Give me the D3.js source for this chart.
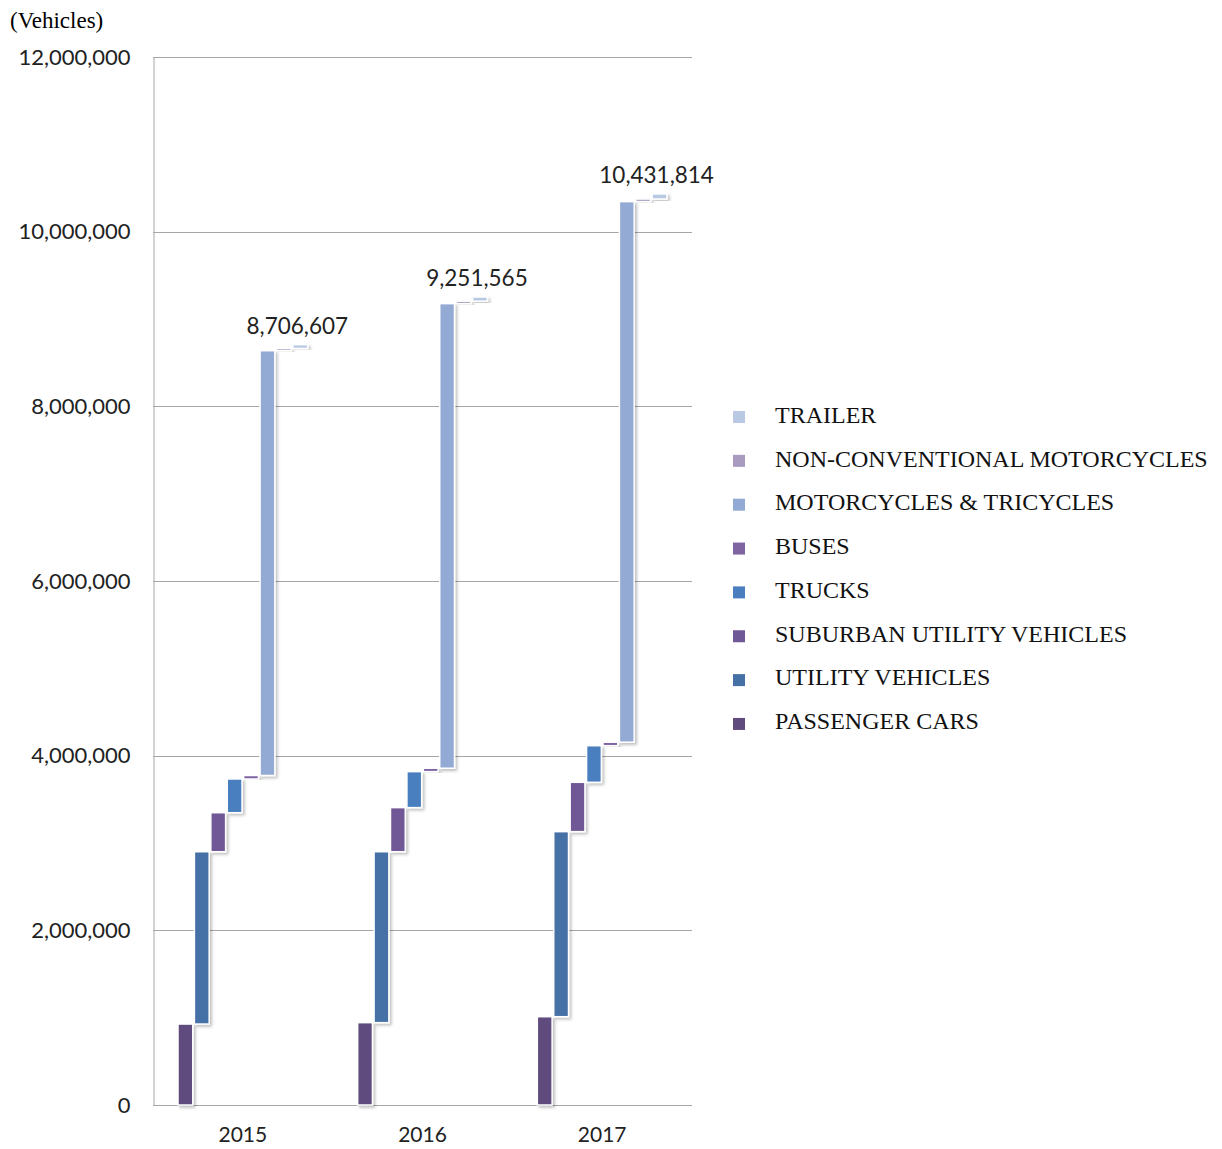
<!DOCTYPE html>
<html lang="en">
<head>
<meta charset="utf-8">
<title>Registered vehicles</title>
<script src="https://cdn.jsdelivr.net/npm/d3@7"></script>
<style>
    body { margin: 0; background: #fff; }
    .tick text { font-family: Lato, "Open Sans", sans-serif; font-size: 22px; fill: #222; }
    .xaxis .tick text { font-size: 21px; }
    .legend text { font-family: "Liberation Serif", "Times New Roman", serif; font-size: 24px; fill: #111; }
</style>
</head>
<body>
<div id="chart"></div>
<script>
// data
var years = ["2015", "2016", "2017"];
var seriesNames = ["PASSENGER CARS", "UTILITY VEHICLES", "SUBURBAN UTILITY VEHICLES", "TRUCKS",
    "BUSES", "MOTORCYCLES & TRICYCLES", "NON-CONVENTIONAL MOTORCYCLES", "TRAILER"];
var seriesColors = ["#5f4b7e", "#4571a6", "#6f5896", "#4a7ebf", "#8064a2", "#93aad4", "#a99bbf", "#b9c9e3"];
var passengerCars = [927000, 943000, 1011000];
var utilityVehicles = [1973000, 1957000, 2119000];
var suburbanUtility = [447000, 505000, 565000];
var trucks = [386000, 412000, 419000];
var buses = [40000, 39000, 40000];
var motorcycles = [4864000, 5320000, 6190000];
var nonConventional = [25000, 28000, 30000];
var trailers = [44607, 47565, 57814];
var yTicks = [0, 2000000, 4000000, 6000000, 8000000, 10000000, 12000000];

var seriesValues = [passengerCars, utilityVehicles, suburbanUtility, trucks, buses, motorcycles, nonConventional, trailers];

var svg_width = 1222, svg_height = 1149;
var plotLeft = 153, plotRight = 692, plotTop = 57, plotBottom = 1105;

var svg = d3.select("#chart").append("svg")
    .attr("width", svg_width)
    .attr("height", svg_height);

var defs = svg.append("defs");
var shadow = defs.append("filter").attr("id", "shadow")
    .attr("x", "-50%").attr("y", "-10%").attr("width", "200%").attr("height", "130%");
shadow.append("feDropShadow")
    .attr("dx", 2).attr("dy", 2).attr("stdDeviation", 1.5)
    .attr("flood-color", "#000").attr("flood-opacity", 0.25);

var x0 = d3.scaleBand().domain(years).range([plotLeft, plotRight])
    .paddingInner(0.26).paddingOuter(0.13);
var x1 = d3.scaleBand().domain(seriesNames).range([0, x0.bandwidth()]).padding(0.1);
var y = d3.scaleLinear().domain([0, 12000000]).range([plotBottom, plotTop]);

// gridlines
svg.append("g").selectAll("line")
    .data(yTicks.slice(1))
    .enter().append("line")
    .attr("x1", plotLeft).attr("x2", plotRight)
    .attr("y1", function(d) { return Math.round(y(d)) + 0.5; })
    .attr("y2", function(d) { return Math.round(y(d)) + 0.5; })
    .attr("stroke", "#a6a6a6").attr("stroke-width", 1);

var yaxis = svg.append("g")
    .attr("transform", "translate(" + (plotLeft + 0.5) + ",0)")
    .call(d3.axisLeft(y).tickValues(yTicks).tickFormat(d3.format(",")).tickSize(0).tickPadding(23));
yaxis.select(".domain").attr("stroke", "#a6a6a6");

var xaxis = svg.append("g")
    .attr("class", "xaxis")
    .attr("transform", "translate(0," + plotBottom + ")")
    .call(d3.axisBottom(x0).tickSize(0).tickPadding(22));
xaxis.select(".domain").attr("stroke", "#a6a6a6").attr("d", "M" + plotLeft + ",0.5H" + plotRight);

svg.append("text")
    .attr("x", 10).attr("y", 28)
    .style("font-family", "'Liberation Serif', 'Times New Roman', serif")
    .style("font-size", "23px")
    .text("(Vehicles)");

// floating bars, each series starts where the previous one ended
var bars = [];
years.forEach(function(yr, i) {
    var base = 0;
    seriesNames.forEach(function(name, j) {
        var v = seriesValues[j][i];
        bars.push({ year: yr, name: name, color: seriesColors[j], from: base, to: base + v });
        base += v;
    });
});

svg.append("g").selectAll("rect")
    .data(bars)
    .enter().append("rect")
    .attr("x", function(d) { return x0(d.year) + x1(d.name); })
    .attr("width", x1.bandwidth())
    .attr("y", function(d) { return y(d.to); })
    .attr("height", function(d) { return Math.max(1, y(d.from) - y(d.to)); })
    .attr("fill", function(d) { return d.color; })
    .attr("stroke", "#fff")
    .attr("stroke-width", 1.5)
    .attr("filter", "url(#shadow)");

// totals above the last bar
svg.append("g").selectAll("text")
    .data(years)
    .enter().append("text")
    .attr("x", function(d) { return x0(d) + x1("TRAILER") + x1.bandwidth() / 2 - 3; })
    .attr("y", function(d, i) {
        var total = d3.sum(seriesValues, function(s) { return s[i]; });
        return y(total) - 11;
    })
    .attr("text-anchor", "middle")
    .style("font-family", "Lato, 'Open Sans', sans-serif")
    .style("font-size", "22.5px")
    .style("fill", "#222")
    .text(function(d, i) { return d3.format(",")(d3.sum(seriesValues, function(s) { return s[i]; })); });

// legend, top entry is the last series
var legend = svg.append("g").attr("class", "legend");
var legendItems = seriesNames.slice().reverse();
var legendColors = seriesColors.slice().reverse();
legendItems.forEach(function(name, k) {
    var ly = 415 + k * 43.7;
    legend.append("rect")
        .attr("x", 733).attr("y", ly - 4 + k * 0.15)
        .attr("width", 12).attr("height", 12)
        .attr("fill", legendColors[k]);
    legend.append("text")
        .attr("x", 775).attr("y", ly + 8)
        .text(name);
});
</script>
</body>
</html>
